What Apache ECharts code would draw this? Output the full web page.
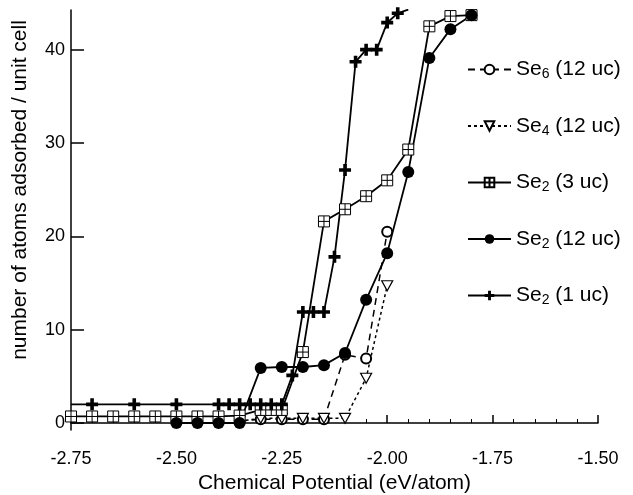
<!DOCTYPE html>
<html>
<head>
<meta charset="utf-8">
<script src="https://cdn.jsdelivr.net/npm/echarts@6/dist/echarts.min.js"></script>
<style>
html, body { margin: 0; padding: 0; background: #fff; }
#chart { width: 633px; height: 495px; }
</style>
</head>
<body>
<div id="chart"></div>
<script>
// Se6 (12 uc)
var se6X = [-2.35, -2.30, -2.25, -2.20, -2.15, -2.10, -2.05, -2.00];
var se6Y = [0.2, 0.4, 0.4, 0.4, 0.4, 7.3, 6.9, 20.5];
// Se4 (12 uc)
var se4X = [-2.35, -2.30, -2.25, -2.20, -2.15, -2.10, -2.05, -2.00];
var se4Y = [0.2, 0.5, 0.5, 0.5, 0.5, 0.5, 4.8, 14.7];
// Se2 (3 uc)
var se2_3X = [-2.75, -2.70, -2.65, -2.60, -2.55, -2.50, -2.45, -2.40, -2.35, -2.30, -2.275, -2.25,
              -2.20, -2.15, -2.10, -2.05, -2.00, -1.95, -1.90, -1.85, -1.80];
var se2_3Y = [0.7, 0.7, 0.7, 0.7, 0.7, 0.7, 0.7, 0.7, 0.8, 1.4, 1.4, 1.4,
              7.6, 21.6, 22.9, 24.3, 26.0, 29.3, 42.5, 43.6, 43.7];
// Se2 (12 uc)
var se2_12X = [-2.50, -2.45, -2.40, -2.35, -2.30, -2.25, -2.20, -2.15, -2.10, -2.05, -2.00, -1.95, -1.90, -1.85, -1.80];
var se2_12Y = [0, 0, 0, 0, 5.9, 6.0, 6.0, 6.2, 7.5, 13.2, 18.2, 26.9, 39.1, 42.2, 43.7];
// Se2 (1 uc)
var se2_1X = [-2.75, -2.70, -2.60, -2.50, -2.40, -2.375, -2.35, -2.325, -2.30, -2.275, -2.25,
              -2.225, -2.20, -2.175, -2.15, -2.125, -2.10, -2.075, -2.05, -2.025, -2.00, -1.975, -1.95];
var se2_1Y = [2.0, 2.0, 2.0, 2.0, 2.0, 2.0, 2.0, 2.0, 2.0, 2.0, 2.0,
              5.1, 11.9, 11.9, 11.9, 17.8, 27.1, 38.7, 40.0, 40.0, 42.9, 43.9, 44.3];

var yTicks = [0, 10, 20, 30, 40];
var names = ['Se6 (12 uc)', 'Se4 (12 uc)', 'Se2 (3 uc)', 'Se2 (12 uc)', 'Se2 (1 uc)'];

function pairs(xs, ys) {
    return xs.map(function (x, i) { return [x, ys[i]]; });
}

var plusPath = 'path://M3.5,0H6.5V3.5H10V6.5H6.5V10H3.5V6.5H0V3.5H3.5Z';
var boxPath = 'path://M0,0H10V10H0Z M5,0V10 M0,5H10';
var triPath = 'path://M0,0H10L5,9Z';

// the 1 uc line starts at the axis with no marker
var se2_1Data = pairs(se2_1X, se2_1Y);
se2_1Data[0] = { value: se2_1Data[0], symbol: 'none' };

var option = {
    animation: false,
    backgroundColor: '#fff',
    textStyle: { fontFamily: 'Liberation Sans', color: '#000' },
    grid: { left: 71, right: 35, top: 10, bottom: 65, outerBoundsMode: 'none' },
    legend: {
        orient: 'vertical',
        left: 467,
        top: 59,
        padding: 0,
        itemGap: 34,
        itemWidth: 43,
        itemHeight: 12,
        data: names,
        formatter: function (name) {
            var m = name.match(/^Se(\d)(.*)$/);
            return '{n|Se}{s|' + m[1] + '}{n|' + m[2] + '}';
        },
        textStyle: {
            rich: {
                n: { fontSize: 21, fontFamily: 'Liberation Sans', color: '#000', lineHeight: 24 },
                s: { fontSize: 14, fontFamily: 'Liberation Sans', color: '#000', lineHeight: 24, verticalAlign: 'bottom', padding: [8, 0, 0, 0] }
            }
        }
    },
    xAxis: {
        type: 'value',
        min: -2.75,
        max: -1.5,
        interval: 0.25,
        name: 'Chemical Potential (eV/atom)',
        nameLocation: 'middle',
        nameGap: 43,
        nameTextStyle: { fontSize: 21, color: '#000' },
        axisLine: { lineStyle: { color: '#000', width: 1.5 } },
        axisTick: { inside: true, length: 8, lineStyle: { color: '#000', width: 1.5 } },
        minorTick: { show: true, splitNumber: 5, length: 4, lineStyle: { color: '#000', width: 1 } },
        splitLine: { show: false },
        axisLabel: {
            fontSize: 18, color: '#000', margin: 20,
            formatter: function (v) { return v.toFixed(2); }
        }
    },
    yAxis: {
        type: 'value',
        min: -0.75,
        max: 44.25,
        name: 'number of atoms adsorbed / unit cell',
        nameLocation: 'middle',
        nameGap: 40,
        nameTextStyle: { fontSize: 21, color: '#000', padding: [0, 0, 0, 60] },
        axisLine: { show: true, lineStyle: { color: '#000', width: 1.5 } },
        axisTick: { show: true, inside: true, length: 13, customValues: yTicks, lineStyle: { color: '#000', width: 1.5 } },
        splitLine: { show: false },
        axisLabel: { fontSize: 18, color: '#000', margin: 6, customValues: yTicks }
    },
    series: [
        {
            name: names[0], type: 'line', data: pairs(se6X, se6Y),
            symbol: 'emptyCircle', symbolSize: 10,
            itemStyle: { color: '#000', borderWidth: 1 },
            lineStyle: { color: '#000', width: 1.5, type: [7, 5] }
        },
        {
            name: names[1], type: 'line', data: pairs(se4X, se4Y),
            symbol: triPath, symbolSize: [11, 10],
            itemStyle: { color: '#fff', borderColor: '#000', borderWidth: 1.2 },
            lineStyle: { color: '#000', width: 1.5, type: [3, 3] }
        },
        {
            name: names[2], type: 'line', data: pairs(se2_3X, se2_3Y),
            symbol: boxPath, symbolSize: 11,
            itemStyle: { color: '#fff', borderColor: '#000', borderWidth: 1 },
            lineStyle: { color: '#000', width: 1.8 }
        },
        {
            name: names[3], type: 'line', data: pairs(se2_12X, se2_12Y),
            symbol: 'circle', symbolSize: 12,
            itemStyle: { color: '#000' },
            lineStyle: { color: '#000', width: 1.8 }
        },
        {
            name: names[4], type: 'line', data: se2_1Data,
            symbol: plusPath, symbolSize: 12,
            itemStyle: { color: '#000' },
            lineStyle: { color: '#000', width: 1.8 }
        }
    ]
};

var mychart = echarts.init(document.getElementById('chart'));
mychart.setOption(option);
</script>
</body>
</html>
